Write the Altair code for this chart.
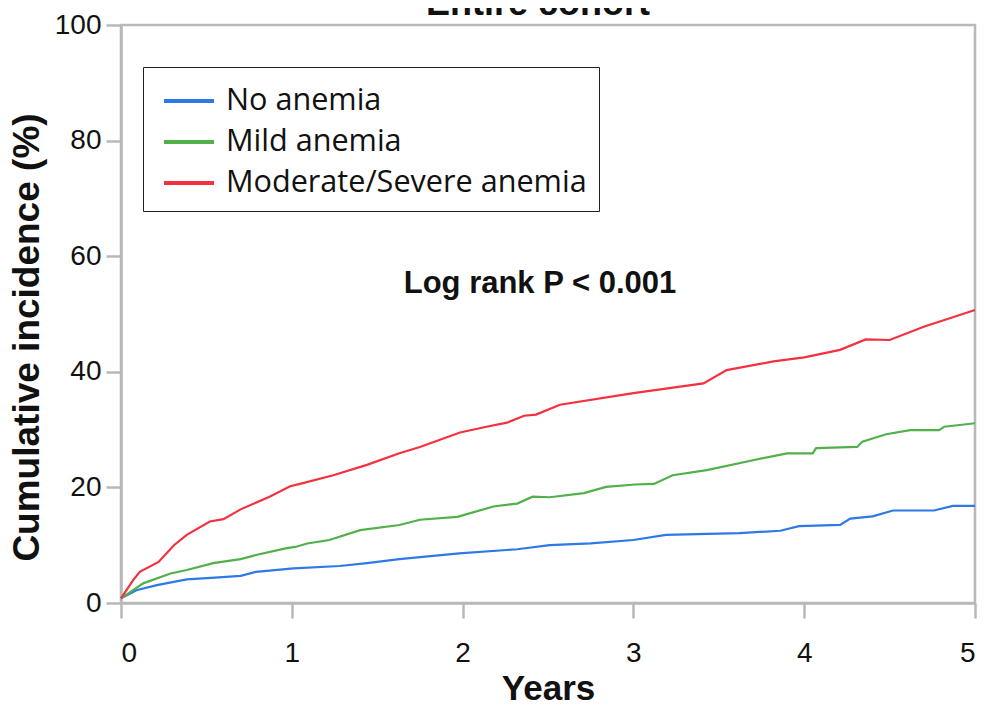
import altair as alt
import pandas as pd

groups = ["No anemia", "Mild anemia", "Moderate/Severe anemia"]
colors = ["#2f78e8", "#52b04a", "#f5303f"]

no_t = [0, 0.09, 0.21, 0.385, 0.55, 0.70, 0.79, 1.01, 1.28, 1.44, 1.63, 1.98, 2.32, 2.51,
        2.75, 3.0, 3.19, 3.62, 3.86, 3.97, 4.21, 4.27, 4.40, 4.52, 4.76, 4.87, 5.0]
no_v = [0.8, 2.2, 3.1, 4.1, 4.4, 4.7, 5.4, 6.0, 6.4, 6.9, 7.6, 8.6, 9.3, 10.0,
        10.3, 10.9, 11.8, 12.1, 12.5, 13.3, 13.5, 14.6, 15.0, 16.0, 16.0, 16.8, 16.8]

mild_t = [0, 0.13, 0.29, 0.385, 0.54, 0.70, 0.79, 0.97, 1.02, 1.09, 1.22, 1.40, 1.63, 1.75,
          1.97, 2.18, 2.32, 2.41, 2.51, 2.71, 2.84, 3.01, 3.12, 3.23, 3.43, 3.70, 3.90,
          4.05, 4.07, 4.31, 4.34, 4.48, 4.62, 4.79, 4.82, 5.0]
mild_v = [0.8, 3.4, 5.1, 5.7, 6.9, 7.6, 8.3, 9.5, 9.7, 10.3, 10.9, 12.6, 13.5, 14.4,
          14.9, 16.7, 17.2, 18.4, 18.3, 19.0, 20.1, 20.5, 20.6, 22.1, 23.0, 24.7, 25.9,
          25.9, 26.8, 27.0, 27.9, 29.2, 29.9, 29.9, 30.5, 31.1]

sev_t = [0, 0.072, 0.11, 0.22, 0.31, 0.385, 0.52, 0.60, 0.70, 0.87, 0.99, 1.048, 1.243,
         1.44, 1.63, 1.75, 1.985, 2.14, 2.26, 2.36, 2.43, 2.57, 3.0, 3.41, 3.546, 3.82,
         4.0, 4.21, 4.36, 4.5, 4.70, 5.0]
sev_v = [0.8, 4.0, 5.4, 7.1, 10.0, 11.8, 14.1, 14.5, 16.2, 18.4, 20.2, 20.6, 22.1,
         23.9, 25.9, 27.0, 29.5, 30.5, 31.2, 32.4, 32.6, 34.3, 36.3, 38.0, 40.3, 41.8,
         42.5, 43.8, 45.6, 45.5, 47.8, 50.7]

x_ticks = [0, 1, 2, 3, 4, 5]
y_ticks = [0, 20, 40, 60, 80, 100]

rows = []
for g, ts, vs in [(groups[0], no_t, no_v), (groups[1], mild_t, mild_v), (groups[2], sev_t, sev_v)]:
    for i, (t, v) in enumerate(zip(ts, vs)):
        rows.append({"group": g, "years": t, "inc": v, "order": i})
df = pd.DataFrame(rows)

note_df = pd.DataFrame({"years": [2.453], "inc": [53.6], "label": ["Log rank P < 0.001"]})
# chart title, sitting just above the top of the frame (cut by the page edge)
title_df = pd.DataFrame({"years": [2.441], "inc": [101.73], "label": ["- Entire cohort -"]})

axis_gray = "#b8b8b8"

x_scale = alt.Scale(domain=[0, 5], nice=False)
y_scale = alt.Scale(domain=[0, 100], nice=False)

lines = alt.Chart(df).mark_line(strokeWidth=2.2).encode(
    x=alt.X("years:Q", scale=x_scale,
            axis=alt.Axis(values=x_ticks, title="Years", format="d", grid=False,
                          titleX=427, titleY=96, titleBaseline="alphabetic",
                          titleAlign="center",
                          labelPadding=21)),
    y=alt.Y("inc:Q", scale=y_scale,
            axis=alt.Axis(values=y_ticks, title="Cumulative incidence (%)", grid=False,
                          titleX=-94, titleY=312, titleAngle=270,
                          titleBaseline="middle", titleAlign="center",
                          labelPadding=5)),
    color=alt.Color("group:N", scale=alt.Scale(domain=groups, range=colors),
                    legend=alt.Legend(title=None, orient="none", legendX=22, legendY=42,
                                      symbolType="M-0.65,0H1.85", symbolSize=1600,
                                      symbolStrokeWidth=4, labelFont="Open Sans",
                                      labelFontSize=30.6, labelColor="#111111",
                                      labelOffset=27, rowPadding=3, padding=12,
                                      strokeColor="#222222", fillColor="white",
                                      labelLimit=500)),
    order="order:Q",
)

note = alt.Chart(note_df).mark_text(
    font="Liberation Sans", fontWeight="bold", fontSize=31, align="center",
    baseline="alphabetic", color="#111111"
).encode(
    x=alt.X("years:Q", scale=x_scale),
    y=alt.Y("inc:Q", scale=y_scale),
    text="label:N",
)

title_mark = alt.Chart(title_df).mark_text(
    font="Liberation Sans", fontWeight="bold", fontSize=36, align="center",
    baseline="alphabetic", color="#111111"
).encode(
    x=alt.X("years:Q", scale=x_scale),
    y=alt.Y("inc:Q", scale=y_scale),
    text="label:N",
)

chart = alt.layer(lines, note, title_mark).properties(
    width=854, height=578,
    autosize=alt.AutoSizeParams(type="none"),
    padding={"left": 113, "top": 17, "right": 4, "bottom": 98},
).configure_view(
    stroke=axis_gray, strokeWidth=2.5
).configure_axis(
    domainColor=axis_gray, domainWidth=2.5, tickColor=axis_gray, tickWidth=2.5,
    tickSize=15, labelFont="Liberation Sans", labelFontSize=28, labelColor="#111111",
    titleFont="Liberation Sans", titleFontSize=37, titleFontWeight="bold",
    titleColor="#111111"
).configure_axisX(titleFontSize=35)

chart.save("out.html", embed_options={"renderer": "svg", "actions": False})
